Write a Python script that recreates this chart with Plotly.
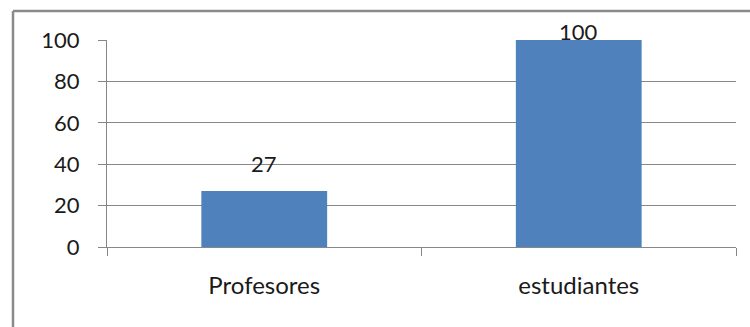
import plotly.graph_objects as go

categories = ["Profesores", "estudiantes"]
values = [27, 100]
y_ticks = [0, 20, 40, 60, 80, 100]

W, H = 750, 327
L, R, T, B = 107, 14, 40, 80
plot_w = W - L - R
plot_h = H - T - B

FONT = "Lato"
TEXT = "#1a1a1a"
GRID = "#878787"
BAR = "#4f81bd"
y_max = 100

fig = go.Figure(
    go.Bar(
        x=categories,
        y=values,
        marker=dict(color=BAR, line=dict(width=0)),
        width=0.4,
        hoverinfo="skip",
    )
)

# value labels above each bar (pushed down when the bar reaches the top)
for cat, v in zip(categories, values):
    fig.add_annotation(
        x=cat, y=v, text=str(v), showarrow=False,
        yanchor="bottom", yshift=12 if v < y_max else -7,
        font=dict(family=FONT, size=22, color=TEXT),
    )

# chart frame: left and top edges
def px_x(px):
    return (px - L) / plot_w

def px_y(py):
    return (H - B - py) / plot_h

frame = dict(color="#8a8a8a", width=2.5)
fig.add_shape(type="line", xref="paper", yref="paper",
              x0=px_x(13), x1=px_x(W + 5), y0=px_y(11), y1=px_y(11), line=frame)
fig.add_shape(type="line", xref="paper", yref="paper",
              x0=px_x(13), x1=px_x(13), y0=px_y(11), y1=px_y(H + 5), line=frame)

fig.update_layout(
    width=W, height=H,
    margin=dict(l=L, r=R, t=T, b=B),
    paper_bgcolor="white", plot_bgcolor="white",
    showlegend=False,
    bargap=0.6,
    font=dict(family=FONT, size=22, color=TEXT),
    xaxis=dict(
        showline=True, linecolor=GRID, linewidth=1,
        ticks="outside", tickson="boundaries", ticklen=8, tickcolor=GRID,
        ticklabelstandoff=17,
        showgrid=False, fixedrange=True,
        tickfont=dict(family=FONT, size=24, color=TEXT),
    ),
    yaxis=dict(
        range=[0, y_max], tickvals=y_ticks,
        showline=True, linecolor=GRID, linewidth=1,
        ticks="outside", ticklen=8, tickcolor=GRID,
        ticklabelstandoff=14,
        showgrid=True, gridcolor=GRID, gridwidth=1,
        zeroline=False, fixedrange=True,
        tickfont=dict(family=FONT, size=22, color=TEXT),
    ),
)

fig.write_html("out.html", config={"displayModeBar": False})
